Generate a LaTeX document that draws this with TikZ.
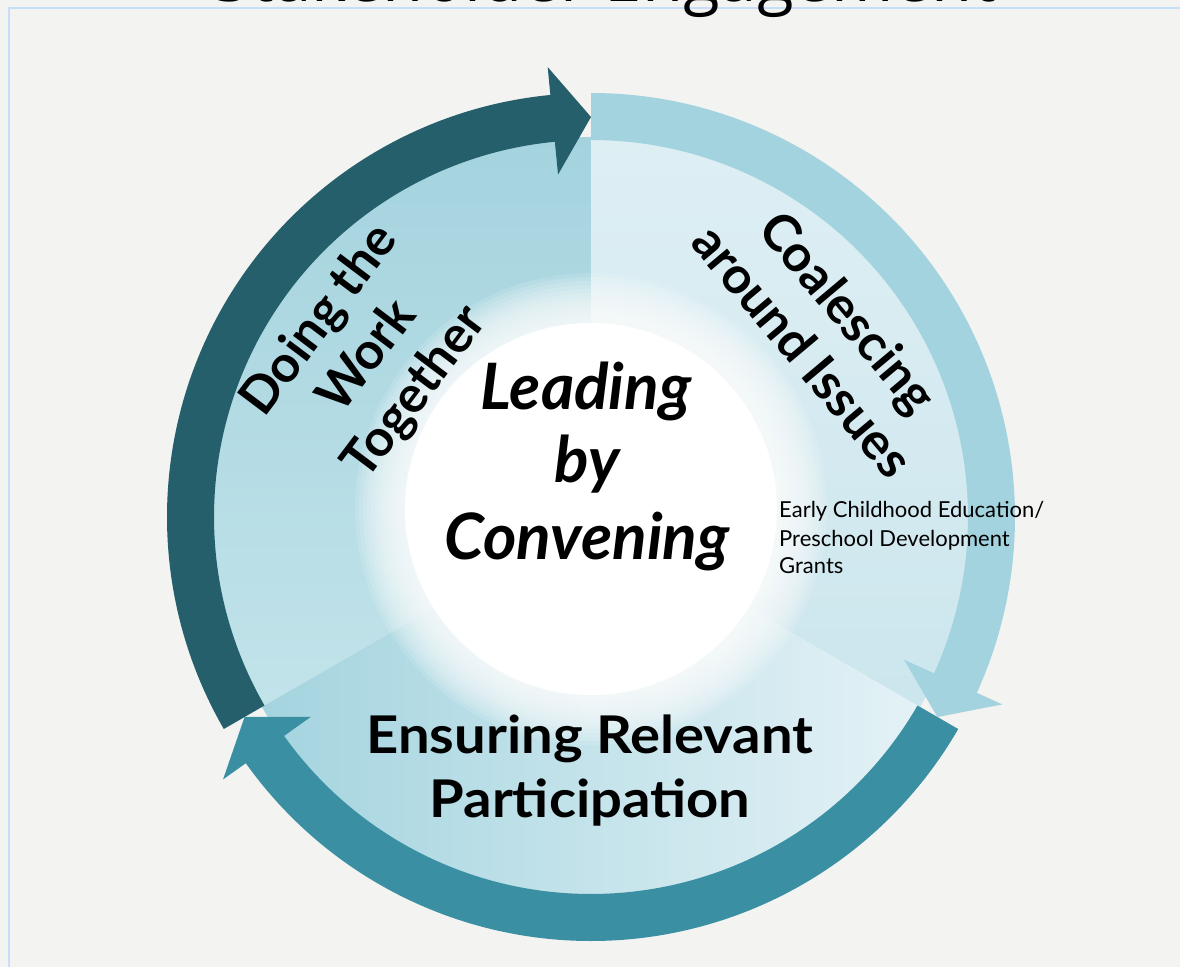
\documentclass[tikz,border=0pt]{standalone}
\usepackage{fontspec}
\setmainfont{Lato}
\newfontfamily\titlefont{Open Sans}

\definecolor{bgcol}{HTML}{F3F3F1}
\definecolor{framecol}{HTML}{C6DEF8}
\definecolor{darkarr}{HTML}{255F6B}
\definecolor{midarr}{HTML}{3A8FA3}
\definecolor{lightarr}{HTML}{A3D3DF}
\definecolor{secA}{RGB}{164,211,222}
\definecolor{secAb}{RGB}{194,227,234}
\definecolor{secB}{RGB}{222,239,244}
\definecolor{secBb}{RGB}{204,230,237}
\definecolor{secC}{RGB}{164,212,223}
\definecolor{secCb}{RGB}{228,242,246}

% band of the cycle: colour, tail angle, head base angle, tip angle
\newcommand{\arcarrow}[4]{%
  \fill[#1] (#2:424pt) arc[start angle=#2, end angle=#3, radius=424pt]
    -- (#3:452pt) -- (#4:400pt) -- (#3:344pt) -- (#3:377pt)
    arc[start angle=#3, end angle=#2, radius=377pt] -- cycle;}

\begin{document}
\begin{tikzpicture}[x=1pt, y=1pt,
   lead/.style={anchor=base, font=\fontsize{64}{70}\selectfont\bfseries\itshape},
   phase/.style={anchor=base, font=\fontsize{52}{58}\selectfont\bfseries\addfontfeatures{FakeStretch=1.08}},
   tilted/.style={align=center, inner sep=0pt, font=\fontsize{51}{60}\selectfont\bfseries},
   note/.style={anchor=base west, inner sep=0pt, font=\fontsize{22}{24}\selectfont}]
  \useasboundingbox (0,0) rectangle (1180,967);
  \fill[bgcol] (0,0) rectangle (1180,967);
  \draw[framecol, line width=1.5pt] (9,0) -- (9,959) -- (1180,959);
  \node[anchor=base, font=\titlefont\fontsize{67}{72}\selectfont] (title) at (605,965) {Stakeholder Engagement};
  \begin{scope}[shift={(591,450)}]
    % the three sectors inside the ring
    \shade[top color=secA, bottom color=secAb]
      (0,0) -- (90:380pt) arc[start angle=90, end angle=210, radius=380pt] -- cycle;
    \shade[top color=secB, bottom color=secBb]
      (0,0) -- (-30:380pt) arc[start angle=-30, end angle=90, radius=380pt] -- cycle;
    \shade[left color=secC, right color=secCb]
      (0,0) -- (210:380pt) arc[start angle=210, end angle=330, radius=380pt] -- cycle;
    % soft white core
    \foreach \r in {236,232,...,188} \fill[white, opacity=0.13] (0,8) circle (\r pt);
    \fill[white] (0,8) circle (186pt);
    % the cycle
    \arcarrow{darkarr}{210}{95.5}{90}
    \arcarrow{midarr}{-30}{-144.5}{-150}
    \arcarrow{lightarr}{90}{-24.5}{-30}
  \end{scope}
  % phase labels
  \node[tilted, rotate=53] (doing) at (368,610) {Doing the\\Work\\Together};
  \node[tilted, rotate=-50] (coal) at (826,636) {Coalescing\\around Issues};
  \node[lead] (lead1) at (586,557) {Leading};
  \node[lead] (lead2) at (587,484) {by};
  \node[lead] (lead3) at (587,407) {Convening};
  \node[phase] (ens1) at (590,214) {Ensuring Relevant};
  \node[phase] (ens2) at (590,150) {Participation};
  \node[note] (grant1) at (779,449) {Early Childhood Education/};
  \node[note] (grant2) at (779,420) {Preschool Development};
  \node[note] (grant3) at (779,393) {Grants};
\end{tikzpicture}
\end{document}
